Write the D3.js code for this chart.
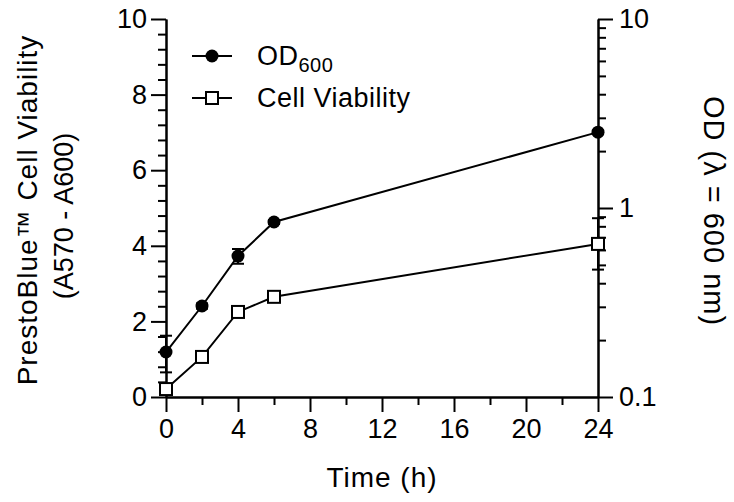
<!DOCTYPE html>
<html>
<head>
<meta charset="utf-8">
<script src="https://cdn.jsdelivr.net/npm/d3@7"></script>
<style>
  html, body { margin: 0; padding: 0; background: #fff; }
  svg text { font-family: "Liberation Sans", Arial, sans-serif; fill: #000; }
</style>
</head>
<body>
<div id="chart"></div>
<script>
// values
var times = [0, 2, 4, 6, 24];
var odValues = [0.173, 0.303, 0.557, 0.843, 2.52];
var odErrors = [0.038, 0.01, 0.05, 0.02, 0.05];
var viabilityValues = [0.21, 1.06, 2.25, 2.65, 4.05];
var viabilityErrors = [0.05, 0.06, 0.08, 0.08, 0.68];
var xTicks = [0, 4, 8, 12, 16, 20, 24];
var xMinorTicks = [2, 6, 10, 14, 18, 22];
var leftTicks = [0, 2, 4, 6, 8, 10];
var rightTicks = [0.1, 1, 10];

var width = 734, height = 502;
var margin = {left: 166, right: 136, top: 19, bottom: 105};

var svg = d3.select('#chart').append('svg')
  .attr('width', width)
  .attr('height', height);

var x = d3.scaleLinear().domain([0, 24]).range([margin.left, width - margin.right]);
var yLeft = d3.scaleLinear().domain([0, 10]).range([height - margin.bottom, margin.top]);
var yRight = d3.scaleLog().domain([0.1, 10]).range([height - margin.bottom, margin.top]);

var y0 = height - margin.bottom;
var xRight = width - margin.right;

// minor ticks
var leftMinor = d3.range(0, 10.001, 0.4).filter(function (v) {
  return Math.abs(v / 2 - Math.round(v / 2)) > 1e-6;
});
var rightMinor = [];
[0.1, 1].forEach(function (d) {
  for (var k = 2; k <= 9; k++) rightMinor.push(d * k);
});

function styleAxis(g) {
  g.selectAll('path, line').attr('stroke', '#000').attr('stroke-width', 2);
  g.selectAll('text').style('font-size', '27px');
}

// x axis
svg.append('g')
  .attr('transform', 'translate(0,' + y0 + ')')
  .call(d3.axisBottom(x).tickValues(xMinorTicks).tickSize(8).tickFormat('').tickSizeOuter(0))
  .call(styleAxis);
svg.append('g')
  .attr('transform', 'translate(0,' + y0 + ')')
  .call(d3.axisBottom(x).tickValues(xTicks).tickSize(15).tickPadding(7).tickSizeOuter(0))
  .call(styleAxis);

// left axis
svg.append('g')
  .attr('transform', 'translate(' + margin.left + ',0)')
  .call(d3.axisLeft(yLeft).tickValues(leftMinor).tickSize(8).tickFormat('').tickSizeOuter(0))
  .call(styleAxis);
svg.append('g')
  .attr('transform', 'translate(' + margin.left + ',0)')
  .call(d3.axisLeft(yLeft).tickValues(leftTicks).tickSize(15).tickPadding(4).tickSizeOuter(0))
  .call(styleAxis);

// right axis (log)
svg.append('g')
  .attr('transform', 'translate(' + xRight + ',0)')
  .call(d3.axisRight(yRight).tickValues(rightMinor).tickSize(8).tickFormat('').tickSizeOuter(0))
  .call(styleAxis);
svg.append('g')
  .attr('transform', 'translate(' + xRight + ',0)')
  .call(d3.axisRight(yRight).tickValues(rightTicks).tickSize(15).tickPadding(6)
    .tickFormat(function (d) { return d3.format('~g')(d); }).tickSizeOuter(0))
  .call(styleAxis);

// axis titles
svg.append('text')
  .attr('x', x(12))
  .attr('y', 487)
  .attr('text-anchor', 'middle')
  .style('font-size', '28px')
  .style('letter-spacing', '1px')
  .text('Time (h)');

svg.append('text')
  .attr('transform', 'translate(37,210) rotate(-90)')
  .attr('text-anchor', 'middle')
  .style('font-size', '28px')
  .style('letter-spacing', '1px')
  .text('PrestoBlue™ Cell Viability');

svg.append('text')
  .attr('transform', 'translate(73,216) rotate(-90)')
  .attr('text-anchor', 'middle')
  .style('font-size', '27px')
  .text('(A570 - A600)');

svg.append('text')
  .attr('transform', 'translate(704,211) rotate(90)')
  .attr('text-anchor', 'middle')
  .style('font-size', '29px')
  .style('letter-spacing', '1px')
  .text('OD (λ = 600 nm)');

var od = times.map(function (t, i) { return {t: t, v: odValues[i], e: odErrors[i]}; });
var viab = times.map(function (t, i) { return {t: t, v: viabilityValues[i], e: viabilityErrors[i]}; });

var capW = 6;

function drawErrors(data, yScale) {
  var g = svg.append('g').attr('stroke', '#000').attr('stroke-width', 2);
  data.forEach(function (d) {
    var top = yScale(d.v + d.e), bot = yScale(d.v - d.e), cx = x(d.t);
    g.append('line').attr('x1', cx).attr('x2', cx).attr('y1', top).attr('y2', bot);
    g.append('line').attr('x1', cx - capW).attr('x2', cx + capW).attr('y1', top).attr('y2', top);
    g.append('line').attr('x1', cx - capW).attr('x2', cx + capW).attr('y1', bot).attr('y2', bot);
  });
}

drawErrors(viab, yLeft);
drawErrors(od, yRight);

// lines
svg.append('path')
  .datum(viab)
  .attr('fill', 'none').attr('stroke', '#000').attr('stroke-width', 2)
  .attr('d', d3.line().x(function (d) { return x(d.t); }).y(function (d) { return yLeft(d.v); }));

svg.append('path')
  .datum(od)
  .attr('fill', 'none').attr('stroke', '#000').attr('stroke-width', 2)
  .attr('d', d3.line().x(function (d) { return x(d.t); }).y(function (d) { return yRight(d.v); }));

// markers
var sq = 12;
svg.selectAll('rect.viab')
  .data(viab)
  .enter().append('rect')
  .attr('class', 'viab')
  .attr('x', function (d) { return x(d.t) - sq / 2; })
  .attr('y', function (d) { return yLeft(d.v) - sq / 2; })
  .attr('width', sq).attr('height', sq)
  .attr('fill', '#fff').attr('stroke', '#000').attr('stroke-width', 2);

svg.selectAll('circle.od')
  .data(od)
  .enter().append('circle')
  .attr('class', 'od')
  .attr('cx', function (d) { return x(d.t); })
  .attr('cy', function (d) { return yRight(d.v); })
  .attr('r', 6.5)
  .attr('fill', '#000');

// legend
var legend = svg.append('g').attr('transform', 'translate(192,0)');
var rows = [{label: 'OD', sub: '600', y: 56, type: 'circle'}, {label: 'Cell Viability', sub: null, y: 98, type: 'rect'}];
rows.forEach(function (r) {
  legend.append('line')
    .attr('x1', 0).attr('x2', 40).attr('y1', r.y).attr('y2', r.y)
    .attr('stroke', '#000').attr('stroke-width', 2);
  if (r.type === 'circle') {
    legend.append('circle').attr('cx', 20).attr('cy', r.y).attr('r', 6.5).attr('fill', '#000');
  } else {
    legend.append('rect').attr('x', 20 - sq / 2).attr('y', r.y - sq / 2)
      .attr('width', sq).attr('height', sq)
      .attr('fill', '#fff').attr('stroke', '#000').attr('stroke-width', 2);
  }
  var t = legend.append('text')
    .attr('x', 65).attr('y', r.y + 9)
    .style('font-size', '27px')
    .style('letter-spacing', '0.5px')
    .text(r.label);
  if (r.sub) {
    t.append('tspan').attr('dy', 7).style('font-size', '20px').text(r.sub);
  }
});
</script>
</body>
</html>
